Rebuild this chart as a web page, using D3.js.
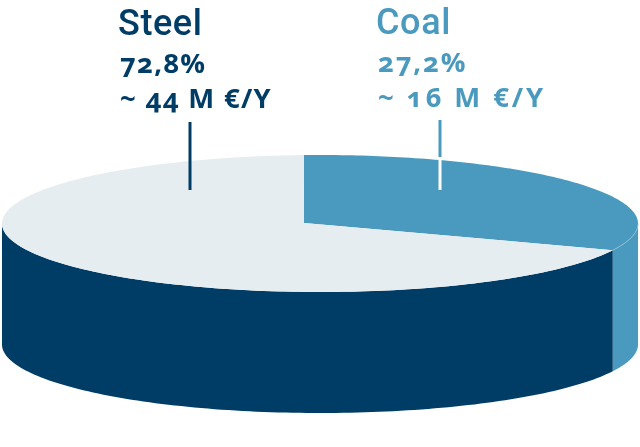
<!DOCTYPE html>
<html>
<head>
<meta charset="utf-8">
<style>
  html, body { margin: 0; padding: 0; background: #fff; }
  svg { display: block; }
  text { font-family: "Open Sans", sans-serif; font-weight: 700; }
  .name { font-family: Roboto, sans-serif; font-weight: 500; font-size: 36px; letter-spacing: 0.6px; }
  .detail { font-size: 27.5px; font-variant-numeric: oldstyle-nums; }
</style>
<script src="https://cdn.jsdelivr.net/npm/d3@7"></script>
</head>
<body>
<svg width="640" height="447">
  <defs>
    <filter id="soft" x="-2%" y="-2%" width="104%" height="104%"><feGaussianBlur stdDeviation="0.6"></feGaussianBlur></filter>
    <filter id="softText" x="-5%" y="-5%" width="110%" height="110%"><feGaussianBlur stdDeviation="0.4"></feGaussianBlur></filter>
  </defs>
</svg>
<script>
// Chart values
var categories = ['Coal', 'Steel'];
var shares = [27.2, 72.8];
var shareLabels = ['27,2%', '72,8%'];
var amountLabels = ['~ 16 M €/Y', '~ 44 M €/Y'];

var svg = d3.select('svg');

// Layout of the disc: top ellipse, wall depth, and the off-centre apex of the slices
var disc = { cx: 320, cy: 223.5, rx: 318, ry: 68.5, depth: 121 };
var apex = { x: 304, y: 223 };
var color = d3.scaleOrdinal().domain(categories).range(['#4a9abe', '#003d66']);
var topColor = d3.scaleOrdinal().domain(categories).range(['#4a9abe', '#e6edf1']);

var pie = d3.pie().sort(null).value(d => d.share);
var slices = pie(categories.map((c, i) => ({ name: c, share: shares[i] })));

// The picture is drawn in a tilted view, so pie angles do not land at their true place.
// Map them to the angle on the ellipse where the edges actually sit.
var rad = Math.PI / 180;
var viewAngle = d3.scaleLinear()
    .domain([0, slices[0].endAngle, 2 * Math.PI])
    .range([-2.9 * rad, 113 * rad, 357.1 * rad]);

function rimPoint(a, dy) {
    return [disc.cx + disc.rx * Math.sin(a), disc.cy + (dy || 0) - disc.ry * Math.cos(a)];
}

function rimPoints(a0, a1, dy) {
    return d3.range(0, 121).map(i => rimPoint(a0 + (a1 - a0) * i / 120, dy));
}

var line = d3.line();
var chartG = svg.append('g').attr('filter', 'url(#soft)');

// Visible wall: only the front half of the rim (right side 90deg to left side 270deg)
var frontStart = 90 * rad, frontEnd = 270 * rad;
slices.forEach(function (s, i) {
    var a0 = Math.max(viewAngle(s.startAngle), frontStart);
    var a1 = Math.min(viewAngle(s.endAngle), frontEnd);
    if (a1 <= a0) return;
    var pts = rimPoints(a0, a1, 0).concat(rimPoints(a1, a0, disc.depth));
    chartG.append('path')
        .attr('d', line(pts) + 'Z')
        .attr('fill', color(categories[i]));
});

// Top face of the slices
slices.forEach(function (s, i) {
    var pts = [[apex.x, apex.y]].concat(rimPoints(viewAngle(s.startAngle), viewAngle(s.endAngle), 0));
    chartG.append('path')
        .attr('d', line(pts) + 'Z')
        .attr('fill', topColor(categories[i]));
});

// Thin light edge between the coal top and its wall
chartG.append('path')
    .attr('d', line(rimPoints(frontStart, viewAngle(slices[0].endAngle), 0)))
    .attr('fill', 'none')
    .attr('stroke', '#8fbfd5')
    .attr('stroke-width', 1);

// Leader lines
var leaders = [
    { name: 'Coal', x: 440, y0: 120, y1: 190, split: 157 },
    { name: 'Steel', x: 190, y0: 122, y1: 190 }
];
leaders.forEach(function (d) {
    chartG.append('line')
        .attr('x1', d.x).attr('x2', d.x)
        .attr('y1', d.y0).attr('y2', d.split || d.y1)
        .attr('stroke', color(d.name))
        .attr('stroke-width', 3);
    if (d.split) {
        chartG.append('line')
            .attr('x1', d.x).attr('x2', d.x)
            .attr('y1', d.split).attr('y2', d.y1)
            .attr('stroke', '#fff')
            .attr('stroke-width', 3);
    }
});

// Labels
var labelPos = [
    { x: 376, dx: 2, y: [34, 72, 107], shareLs: 1.8, amountLs: 2.9 },
    { x: 118, dx: 2, y: [35, 73, 108], shareLs: 1.2, amountLs: 1.3 }
];
categories.forEach(function (c, i) {
    var p = labelPos[i];
    var g = svg.append('g').attr('fill', color(c)).attr('filter', 'url(#softText)');
    g.append('text').attr('class', 'name').attr('x', p.x).attr('y', p.y[0]).text(c);
    g.append('text').attr('class', 'detail').attr('x', p.x + p.dx).attr('y', p.y[1])
        .style('letter-spacing', p.shareLs + 'px').text(shareLabels[i]);
    g.append('text').attr('class', 'detail').attr('x', p.x + p.dx).attr('y', p.y[2])
        .style('letter-spacing', p.amountLs + 'px').text(amountLabels[i]);
});
</script>
</body>
</html>
